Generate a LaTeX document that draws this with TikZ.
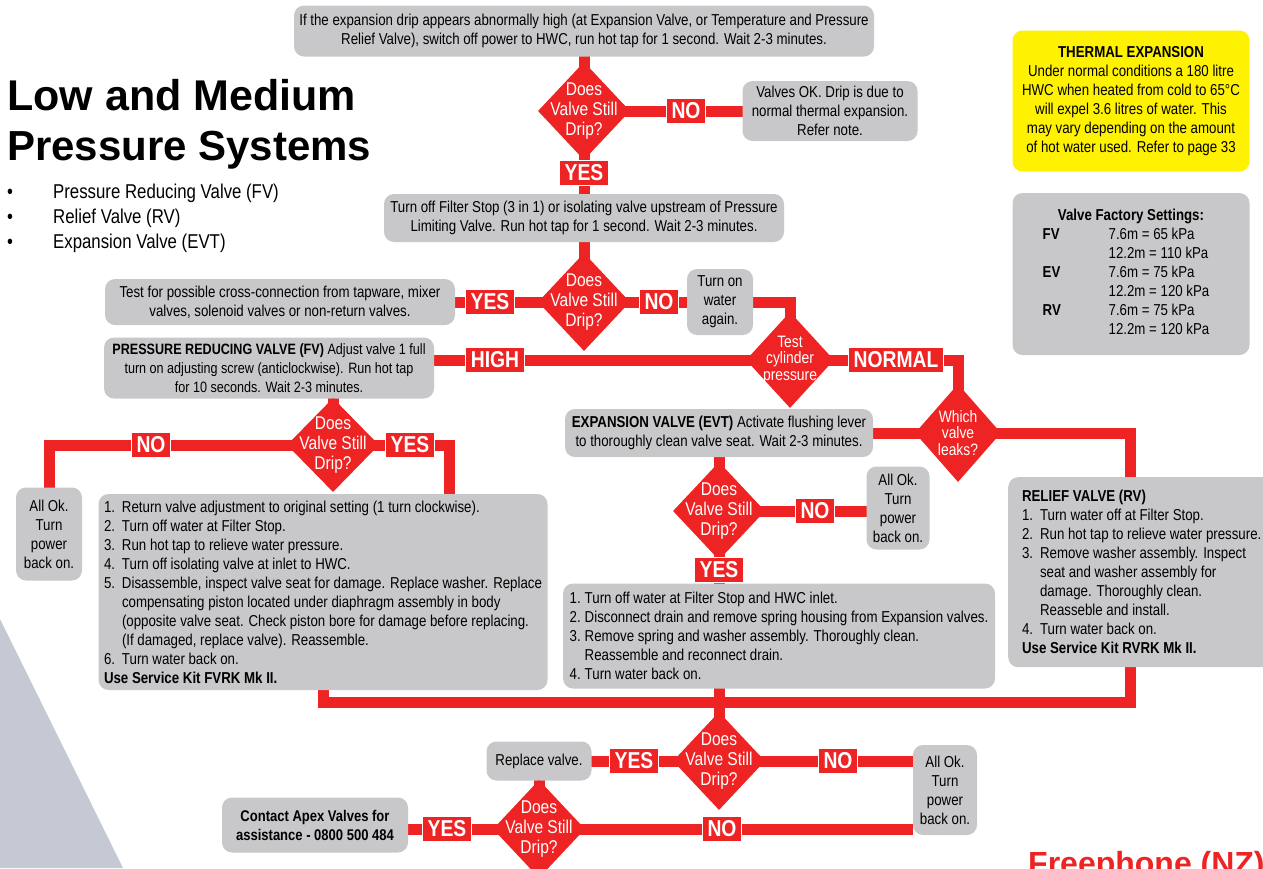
\documentclass[tikz,border=0pt]{standalone}
\usepackage{fontspec}
\setmainfont{Liberation Sans}[FakeStretch=0.84]
\newfontfamily\headfont{Liberation Sans}
\usetikzlibrary{shapes.geometric,backgrounds}
\definecolor{flowred}{RGB}{238,35,36}
\definecolor{boxgrey}{RGB}{200,200,202}
\definecolor{noteyellow}{RGB}{255,242,0}
\definecolor{wedgegrey}{RGB}{197,201,211}
\newcommand{\boxfont}{\fontsize{15.8}{19}\selectfont}
\newcommand{\tagfont}{\fontsize{23}{23}\selectfont\bfseries}
\newcommand{\diafont}{\fontsize{18.5}{20}\selectfont}
\newcommand{\smalldiafont}{\fontsize{16.5}{16.5}\selectfont}
\newcommand{\stepno}[2][18pt]{\makebox[#1][l]{#2}}

\begin{document}
\begin{tikzpicture}[
    x=1pt, y=-1pt,
    box/.style={fill=boxgrey, rounded corners=10pt, align=center, font=\boxfont, inner sep=0pt},
    listbox/.style={box, align=left},
    dia/.style={diamond, fill=flowred, inner sep=0pt, minimum width=92pt, minimum height=98pt},
    dtext/.style={text=white, align=center, font=\diafont, inner sep=0pt},
    tag/.style={fill=flowred, draw=white, line width=1pt, text=white, font=\tagfont, inner xsep=5pt, inner ysep=0pt, minimum height=25pt},
    flow/.style={flowred, line width=11pt}
]
\useasboundingbox (0,0) rectangle (1263,868);
\fill[wedgegrey] (0,619) -- (123,868) -- (0,868) -- cycle;

% Heading
\node[font=\headfont\fontsize{43}{43}\selectfont\bfseries, anchor=base west, inner sep=0pt] (title1) at (7,110) {Low and Medium};
\node[font=\headfont\fontsize{42}{42}\selectfont\bfseries, anchor=base west, inner sep=0pt] (title2) at (7,160) {Pressure Systems};
\node[font=\fontsize{20}{20}\selectfont, anchor=base west, inner sep=0pt] (b1) at (7,198) {\makebox[46pt][l]{\textbullet}Pressure Reducing Valve (FV)};
\node[font=\fontsize{20}{20}\selectfont, anchor=base west, inner sep=0pt] (b2) at (7,223) {\makebox[46pt][l]{\textbullet}Relief Valve (RV)};
\node[font=\fontsize{20}{20}\selectfont, anchor=base west, inner sep=0pt] (b3) at (7,248) {\makebox[46pt][l]{\textbullet}Expansion Valve (EVT)};

% Notes
\node[box, fill=noteyellow, minimum width=237pt, minimum height=141pt] (thermal) at (1131,101) {\textbf{THERMAL EXPANSION}\\Under normal conditions a 180 litre\\HWC when heated from cold to 65°C\\will expel 3.6 litres of water. This\\may vary depending on the amount\\of hot water used. Refer to page 33};
\node[box, minimum width=237pt, minimum height=162pt] (settings) at (1131,274) {\begin{tabular}{@{}p{66pt}@{}l@{\hspace{10pt}}}
\multicolumn{2}{c}{\textbf{Valve Factory Settings:}}\\
\textbf{FV} & 7.6m = 65 kPa\\
 & 12.2m = 110 kPa\\
\textbf{EV} & 7.6m = 75 kPa\\
 & 12.2m = 120 kPa\\
\textbf{RV} & 7.6m = 75 kPa\\
 & 12.2m = 120 kPa
\end{tabular}};

% First checks
\node[box, minimum width=580pt, minimum height=51pt] (start) at (584,31) {If the expansion drip appears abnormally high (at Expansion Valve, or Temperature and Pressure\\Relief Valve), switch off power to HWC, run hot tap for 1 second. Wait 2-3 minutes.};
\node[dia, label={[dtext]center:{Does\\Valve Still\\Drip?}}] (d1) at (584,111) {};
\node[tag] (no1) at (686,111) {NO};
\node[box, minimum width=175pt, minimum height=60pt] (ok1) at (830,111) {Valves OK. Drip is due to\\normal thermal expansion.\\Refer note.};
\node[tag] (yes1) at (584,173) {YES};
\node[box, minimum width=400pt, minimum height=48pt] (stop) at (584,218) {Turn off Filter Stop (3 in 1) or isolating valve upstream of Pressure\\Limiting Valve. Run hot tap for 1 second. Wait 2-3 minutes.};

\node[dia, label={[dtext]center:{Does\\Valve Still\\Drip?}}] (d2) at (584,302) {};
\node[tag] (yes2) at (490,302) {YES};
\node[box, minimum width=350pt, minimum height=46pt] (cross) at (280,302) {Test for possible cross-connection from tapware, mixer\\valves, solenoid valves or non-return valves.};
\node[tag] (no2) at (659,302) {NO};
\node[box, minimum width=66pt, minimum height=66pt] (wateron) at (720,302) {Turn on\\water\\again.};

% Cylinder pressure
\node[dia, minimum width=88pt, minimum height=96pt, label={[dtext, font=\smalldiafont]center:{Test\\cylinder\\pressure}}] (cyl) at (790,360) {};
\node[tag] (high) at (495,360) {HIGH};
\node[box, minimum width=330pt, minimum height=61pt, font=\fontsize{15}{19}\selectfont] (prv) at (269,368) {\textbf{PRESSURE REDUCING VALVE (FV)} Adjust valve 1 full\\turn on adjusting screw (anticlockwise). Run hot tap\\for 10 seconds. Wait 2-3 minutes.};
\node[tag] (normal) at (896,360) {NORMAL};
\node[dia, minimum width=86pt, minimum height=98pt, label={[dtext, font=\smalldiafont]center:{Which\\valve\\leaks?}}] (which) at (958,433) {};
\node[box, minimum width=308pt, minimum height=48pt] (evt) at (719,433) {\textbf{EXPANSION VALVE (EVT)} Activate flushing lever\\to thoroughly clean valve seat. Wait 2-3 minutes.};

% Pressure reducing valve
\node[dia, minimum height=94pt, label={[dtext]center:{Does\\Valve Still\\Drip?}}] (d5) at (333,445) {};
\node[tag] (no5) at (151,445) {NO};
\node[box, minimum width=66pt, minimum height=93pt] (ok5) at (49,534) {All Ok.\\Turn\\power\\back on.};
\node[tag] (yes5) at (410,445) {YES};
\node[listbox, minimum width=449pt, minimum height=196pt] (fvs) at (323,592) {\stepno{1.}Return valve adjustment to original setting (1 turn clockwise).\\
\stepno{2.}Turn off water at Filter Stop.\\
\stepno{3.}Run hot tap to relieve water pressure.\\
\stepno{4.}Turn off isolating valve at inlet to HWC.\\
\stepno{5.}Disassemble, inspect valve seat for damage. Replace washer. Replace\\
\stepno{}compensating piston located under diaphragm assembly in body\\
\stepno{}(opposite valve seat. Check piston bore for damage before replacing.\\
\stepno{}(If damaged, replace valve). Reassemble.\\
\stepno{6.}Turn water back on.\\
\textbf{Use Service Kit FVRK Mk II.}};

% Expansion valve
\node[dia, label={[dtext]center:{Does\\Valve Still\\Drip?}}] (d6) at (719,511) {};
\node[tag] (no6) at (815,511) {NO};
\node[box, minimum width=63pt, minimum height=83pt] (ok6) at (898,508) {All Ok.\\Turn\\power\\back on.};
\node[tag] (yes6) at (719,570) {YES};
\node[listbox, minimum width=432pt, minimum height=105pt] (evs) at (779,636) {\stepno[15pt]{1.}Turn off water at Filter Stop and HWC inlet.\\
\stepno[15pt]{2.}Disconnect drain and remove spring housing from Expansion valves.\\
\stepno[15pt]{3.}Remove spring and washer assembly. Thoroughly clean.\\
\stepno[15pt]{}Reassemble and reconnect drain.\\
\stepno[15pt]{4.}Turn water back on.};

% Relief valve
\node[listbox, minimum width=267pt, minimum height=190pt, anchor=north west] (rv) at (1008,477) {\textbf{RELIEF VALVE (RV)}\\
\stepno{1.}Turn water off at Filter Stop.\\
\stepno{2.}Run hot tap to relieve water pressure.\\
\stepno{3.}Remove washer assembly. Inspect\\
\stepno{}seat and washer assembly for\\
\stepno{}damage. Thoroughly clean.\\
\stepno{}Reasseble and install.\\
\stepno{4.}Turn water back on.\\
\textbf{Use Service Kit RVRK Mk II.}};

% Final checks
\coordinate (bus) at (719,702);
\node[dia, label={[dtext]center:{Does\\Valve Still\\Drip?}}] (d7) at (719,761) {};
\node[tag] (yes7) at (634,761) {YES};
\node[box, minimum width=105pt, minimum height=39pt] (replace) at (539,761) {Replace valve.};
\node[tag] (no7) at (838,761) {NO};
\node[box, minimum width=64pt, minimum height=90pt] (okend) at (945,790) {All Ok.\\Turn\\power\\back on.};
\node[dia, label={[dtext]center:{Does\\Valve Still\\Drip?}}] (d8) at (539,829) {};
\node[tag] (yes8) at (447,829) {YES};
\node[box, minimum width=186pt, minimum height=55pt, font=\fontsize{15.5}{19}\selectfont\bfseries] (contact) at (315,825) {Contact Apex Valves for\\assistance - 0800 500 484};
\node[tag] (no8) at (722,829) {NO};
\node[font=\headfont\fontsize{32}{32}\selectfont\bfseries, text=flowred, anchor=base west, inner sep=0pt] (phone) at (1028,874) {Freephone (NZ)};

% Connectors
\begin{scope}[on background layer]
\draw[flow] (start.center) -- (d1.center) -- (yes1.center) -- (stop.center);
\draw[flow] (d1.center) -- (no1.center) -- (ok1.center);
\draw[flow] (stop.center) -- (d2.center);
\draw[flow] (d2.center) -- (yes2.center) -- (cross.center);
\draw[flow] (d2.center) -- (no2.center) -- (wateron.center) -| (cyl.center);
\draw[flow] (cyl.center) -- (high.center) -- (cyl.center -| prv.center);
\draw[flow] (cyl.center) -- (normal.center) -| (which.center);
\draw[flow] (which.center) -- (evt.center);
\draw[flow] (which.center) -| ([xshift=-11pt]rv.center);
\draw[flow] (prv.center -| d5.center) -- (d5.center);
\draw[flow] (d5.center) -- (no5.center) -| (ok5.center);
\draw[flow] (d5.center) -- (yes5.center) -| ([xshift=126pt]fvs.center);
\draw[flow] (evt.center -| d6.center) -- (d6.center) -- (yes6.center) -- (d6.center |- evs.center);
\draw[flow] (d6.center) -- (no6.center) -- (d6.center -| ok6.center);
\draw[flow] (fvs.center) |- (bus) -| ([xshift=-11pt]rv.center);
\draw[flow] (d7.center |- evs.center) -- (d7.center);
\draw[flow] (d7.center) -- (yes7.center) -- (replace.center);
\draw[flow] (d7.center) -- (no7.center) -- (d7.center -| okend.center);
\draw[flow] (replace.center) -- (d8.center);
\draw[flow] (d8.center) -- (yes8.center) -- (d8.center -| contact.center);
\draw[flow] (d8.center) -- (no8.center) -- (d8.center -| okend.west);
\end{scope}
\end{tikzpicture}
\end{document}
